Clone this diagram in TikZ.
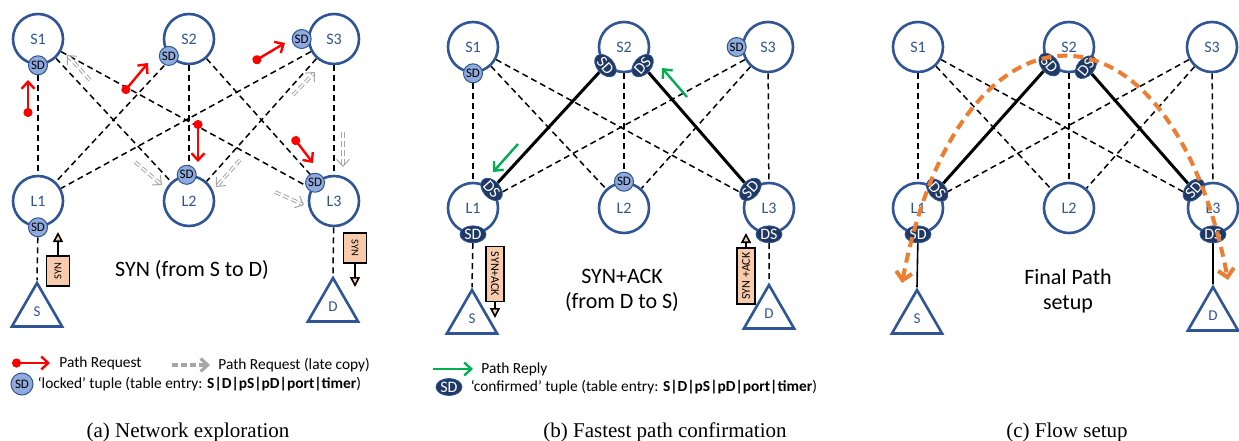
\documentclass[tikz,border=0pt]{standalone}
\usepackage{fontspec}
\setmainfont{Carlito}
\newfontfamily\capfont{Liberation Serif}
\usetikzlibrary{arrows.meta,shapes.geometric,positioning,backgrounds}
\definecolor{netblue}{RGB}{47,85,151}
\definecolor{tupleblue}{RGB}{31,56,100}
\definecolor{lockfill}{RGB}{143,170,220}
\definecolor{reqred}{RGB}{255,0,0}
\definecolor{replygreen}{RGB}{0,176,80}
\definecolor{pathorange}{RGB}{237,125,49}
\definecolor{msgfill}{RGB}{248,203,173}
\definecolor{lategray}{RGB}{166,166,166}
\begin{document}
\begin{tikzpicture}[x=0.5pt,y=-0.5pt,
	switch/.style={circle,draw=netblue,line width=1.3pt,fill=white,minimum size=25pt,inner sep=0pt,text=netblue,font=\fontsize{8}{9}\selectfont},
	host/.style={regular polygon,regular polygon sides=3,draw=netblue,line width=1.3pt,fill=white,minimum size=29pt,inner sep=0pt,text=netblue,font=\fontsize{7.5}{9}\selectfont},
	link/.style={black,line width=0.75pt,dash pattern=on 3pt off 2pt},
	fastpath/.style={black,line width=1.5pt},
	locked/.style={circle,draw=netblue,line width=0.5pt,fill=lockfill,minimum size=9.5pt,inner sep=0pt,font=\fontsize{6.5}{7}\selectfont},
	confirmed/.style={ellipse,draw=netblue,line width=0.4pt,fill=tupleblue,minimum width=13pt,minimum height=8.5pt,inner sep=-0.5pt,text=white,font=\fontsize{8}{8}\selectfont},
	request/.style={reqred,line width=1.2pt,{Circle[length=4.5pt]}-{Straight Barb[length=3.5pt,width=6.5pt]}},
	latecopy/.style={lategray,double=white,double distance=0.8pt,line width=0.5pt,dash pattern=on 3pt off 1.5pt,-{Straight Barb[length=3.5pt,width=6.5pt]}},
	reply/.style={replygreen,line width=1.2pt,-{Straight Barb[length=3.5pt,width=6.5pt]}},
	msg/.style={draw=black,line width=0.6pt,fill=msgfill,inner sep=0pt},
	msgarrow/.style={black,line width=0.8pt,-{Triangle[length=5pt,width=5pt,fill=msgfill]}},
	finalpath/.style={pathorange,line width=2pt,dash pattern=on 5pt off 3pt,{Straight Barb[length=4pt,width=8pt]}-{Straight Barb[length=4pt,width=8pt]}},
	legend/.style={anchor=west,inner sep=0pt,font=\fontsize{7.7}{9}\selectfont},
	caption/.style={anchor=base,inner sep=0pt,font=\capfont\fontsize{10.5}{12}\selectfont},
	]
	\useasboundingbox (0,0) rectangle (1239,440);
	%%%%%%%%%%%%%%%%%%%% (a) network exploration
	% switches
	\foreach \n/\x in {1/38,2/189,3/334}{
		\node[switch] (aS\n) at (\x,39) {S\n};
		\node[switch] (aL\n) at (\x,201) {L\n};
	}
	\node[host] (aS) at (37,312) {\raisebox{-3pt}{S}};
	\node[host] (aD) at (333,307) {\raisebox{-3pt}{D}};
	% locked tuples
	\node[locked] (aS1sd) at (aS1.south) {SD};
	\node[locked] (aS2sd) at (aS2.220) {SD};
	\node[locked,left=-2pt of aS3] (aS3sd) {SD};
	\node[locked] (aL1sd) at (aL1.south) {SD};
	\node[locked] (aL2sd) at (aL2.95) {SD};
	\node[locked] (aL3sd) at (aL3.136) {SD};
	% links
	\begin{scope}[on background layer]
		\foreach \i in {1,2,3}
			\foreach \j in {1,2,3}
				\draw[link] (aS\i) -- (aL\j);
		\draw[link] (aL1sd) -- (aS.north);
		\draw[link] (aL3) -- (aD.north);
	\end{scope}
	% path requests
	\foreach \xa/\ya/\xb/\yb in {28/117/28/80,123/93/148/63,253/62/285/43,198/120/198/162,293/137/313/163}
		\draw[request] (\xa,\ya) -- (\xb,\yb);
	% late copies
	\foreach \xa/\ya/\xb/\yb in {90/80/67/55,135/162/162/185,240/160/216/187,293/95/315/72,275/192/304/205,343/132/343/167}
		\draw[latecopy] (\xa,\ya) -- (\xb,\yb);
	% SYN messages
	\node[msg,rotate=90,minimum width=15pt,minimum height=11.5pt,font=\fontsize{5.3}{6}\selectfont] (asynS) at (58,271) {SYN};
	\coordinate (asynS-tip) at (58,232);
	\draw[msgarrow] (asynS) -- (asynS-tip);
	\node[msg,rotate=-90,minimum width=15pt,minimum height=11.5pt,font=\fontsize{5.3}{6}\selectfont] (asynD) at (355,248) {SYN};
	\coordinate (asynD-tip) at (355,287);
	\draw[msgarrow] (asynD) -- (asynD-tip);
	\node[font=\fontsize{11}{12.5}\selectfont] (atext) at (192,270) {SYN (from S to D)};
	% legend
	\coordinate (lgreq) at (12,363);
	\node[legend] (lgreqtxt) at (59,363) {Path Request};
	\draw[request] (lgreq) -- ([xshift=-4.5pt]lgreqtxt.west);
	\coordinate (lglate) at (172,365);
	\node[legend] (lglatetxt) at (218,365) {Path Request (late copy)};
	\draw[lategray,line width=1.6pt,dash pattern=on 3pt off 1.5pt,-{Straight Barb[length=3.5pt,width=6.5pt]}] (lglate) -- ([xshift=-4pt]lglatetxt.west);
	\node[locked,minimum size=11pt] (lglock) at (22,384) {SD};
	\node[legend,right=2pt of lglock] (lglocktxt) {‘locked’ tuple (table entry: \textbf{S|D|pS|pD|port|timer})};
	\node[caption] (acap) at (188,437) {(a) Network exploration};
	%%%%%%%%%%%%%%%%%%%% (b) fastest path confirmation
	% switches
	\foreach \n/\x/\xl in {1/473/473,2/624/624,3/768/769}{
		\node[switch] (bS\n) at (\x,47) {S\n};
		\node[switch] (bL\n) at (\xl,208) {L\n};
	}
	\node[host] (bS) at (472,319) {\raisebox{-3pt}{S}};
	\node[host] (bD) at (769,314) {\raisebox{-3pt}{D}};
	% tuples
	\node[locked] (bS1sd) at (bS1.south) {SD};
	\node[confirmed,rotate=-48] (bS2sd) at (bS2.225) {SD};
	\node[confirmed,rotate=48] (bS2ds) at (bS2.-45) {DS};
	\node[locked,left=-2.5pt of bS3] (bS3sd) {SD};
	\node[confirmed,rotate=-48] (bL1ds) at (bL1.45) {DS};
	\node[confirmed] (bL1sd) at (bL1.south) {SD};
	\node[locked] (bL2sd) at (bL2.north) {SD};
	\node[confirmed,rotate=48] (bL3sd) at (bL3.135) {SD};
	\node[confirmed] (bL3ds) at (bL3.south) {DS};
	% links
	\begin{scope}[on background layer]
		\foreach \i/\j in {1/1,1/2,1/3,2/2,3/1,3/2,3/3}
			\draw[link] (bS\i) -- (bL\j);
		\draw[fastpath] (bS2sd) -- (bL1ds);
		\draw[fastpath] (bS2ds) -- (bL3sd);
		\draw[link] (bL1sd) -- (bS.north);
		\draw[link] (bL3ds) -- (bD.north);
	\end{scope}
	% path replies
	\foreach \xa/\ya/\xb/\yb in {687/97/662/68,518/144/493/172}
		\draw[reply] (\xa,\ya) -- (\xb,\yb);
	% SYN+ACK messages
	\node[msg,rotate=-90,minimum width=27.5pt,minimum height=9pt,font=\fontsize{6}{7}\selectfont] (bsynS) at (495,274) {SYN+ACK};
	\coordinate (bsynS-tip) at (495,318);
	\draw[msgarrow] (bsynS) -- (bsynS-tip);
	\node[msg,rotate=90,minimum width=28pt,minimum height=9pt,font=\fontsize{6}{7}\selectfont] (bsynD) at (746,276) {SYN +ACK};
	\coordinate (bsynD-tip) at (746,233);
	\draw[msgarrow] (bsynD) -- (bsynD-tip);
	\node[align=center,font=\fontsize{11}{12.5}\selectfont] (btext) at (622,290) {SYN+ACK\\(from D to S)};
	% legend
	\coordinate (lgrep) at (433,369);
	\node[legend] (lgreptxt) at (481,369) {Path Reply};
	\draw[reply] (lgrep) -- ([xshift=-4pt]lgreptxt.west);
	\node[confirmed] (lgconf) at (449,387) {SD};
	\node[legend,right=4pt of lgconf] (lgconftxt) {‘confirmed’ tuple (table entry: \textbf{S|D|pS|pD|port|timer})};
	\node[caption] (bcap) at (665,437) {(b) Fastest path confirmation};
	%%%%%%%%%%%%%%%%%%%% (c) flow setup
	% switches
	\foreach \n/\x/\xl in {1/918/918,2/1069/1069,3/1212/1213}{
		\node[switch] (cS\n) at (\x,47) {S\n};
		\node[switch] (cL\n) at (\xl,208) {L\n};
	}
	\node[host] (cS) at (917,319) {\raisebox{-3pt}{S}};
	\node[host] (cD) at (1213,316) {\raisebox{-3pt}{D}};
	% tuples
	\node[confirmed,rotate=-50] (cS2sd) at (cS2.222) {SD};
	\node[confirmed,rotate=50] (cS2ds) at (cS2.-50) {DS};
	\node[confirmed,rotate=-48] (cL1ds) at (cL1.43) {DS};
	\node[confirmed] (cL1sd) at (cL1.south) {SD};
	\node[confirmed,rotate=48] (cL3sd) at (cL3.137) {SD};
	\node[confirmed] (cL3ds) at (cL3.south) {DS};
	% links
	\begin{scope}[on background layer]
		\foreach \i/\j in {1/1,1/2,1/3,2/2,3/1,3/2,3/3}
			\draw[link] (cS\i) -- (cL\j);
		\draw[fastpath] (cS2sd) -- (cL1ds);
		\draw[fastpath] (cS2ds) -- (cL3sd);
		\draw[black,line width=0.8pt] (cL1sd) -- (cS.north);
		\draw[black,line width=0.8pt] (cL3ds) -- (cD.north);
	\end{scope}
	% final path
	\coordinate (cpathS) at (902,283);
	\coordinate (cpathD) at (1228,280);
	\draw[finalpath] (cpathS) .. controls (960,-18) and (1170,-18) .. (cpathD);
	\node[align=center,font=\fontsize{11}{12.5}\selectfont] (ctext) at (1068,291) {Final Path\\setup};
	\node[caption] (ccap) at (1067,437) {(c) Flow setup};
\end{tikzpicture}
\end{document}
